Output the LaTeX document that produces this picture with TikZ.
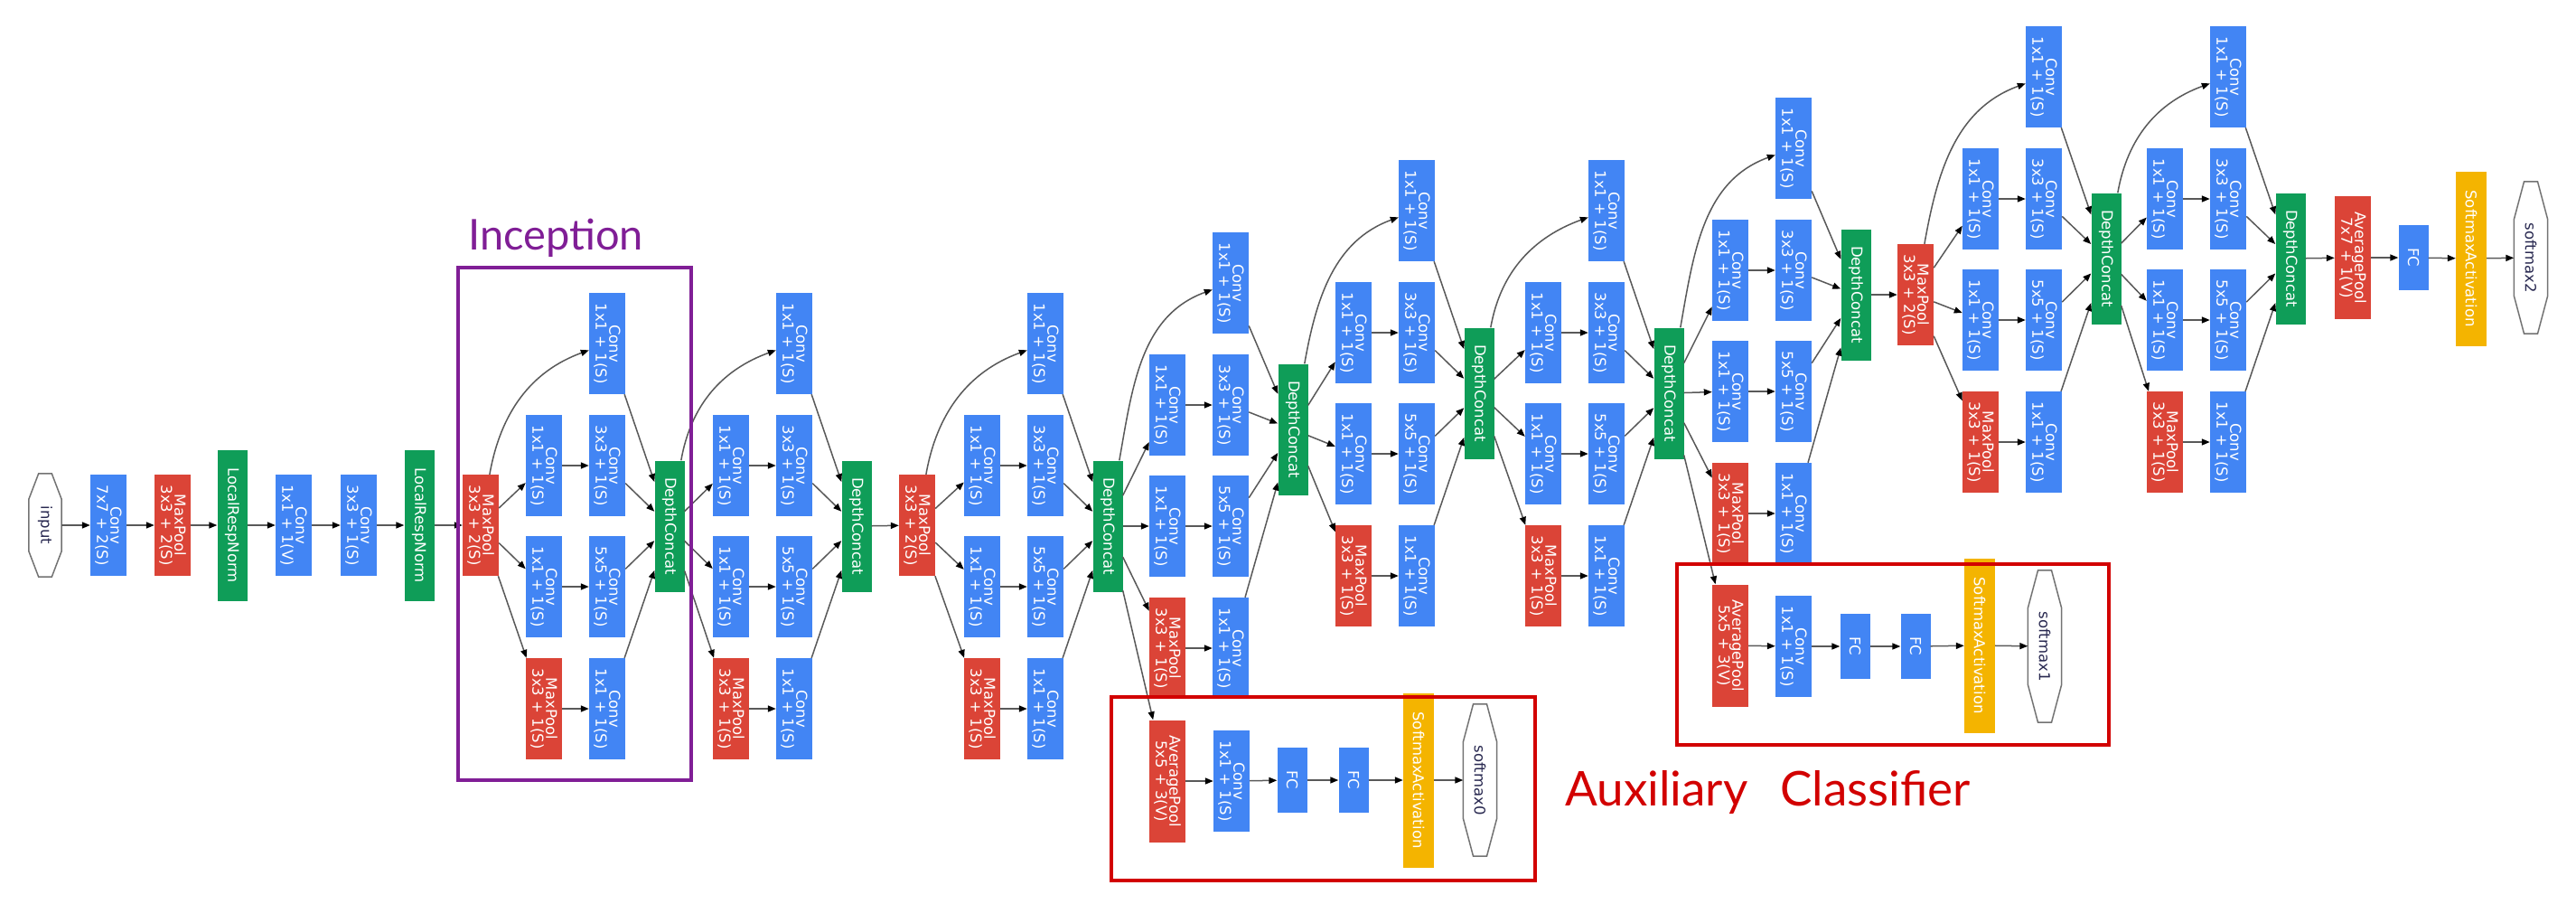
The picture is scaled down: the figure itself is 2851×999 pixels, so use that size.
\documentclass[tikz,border=0pt]{standalone}
\usepackage{fontspec}
\usepackage{graphicx}
\newfontfamily\dv{DejaVu Sans}
\newfontfamily\hand{Lato}
\usetikzlibrary{arrows.meta,calc}
\definecolor{gblue}{RGB}{66,133,244}
\definecolor{gred}{RGB}{219,68,55}
\definecolor{ggreen}{RGB}{15,157,88}
\definecolor{gyellow}{RGB}{244,180,0}
\definecolor{iotext}{RGB}{40,40,80}
\definecolor{annpurple}{RGB}{128,30,150}
\definecolor{annred}{RGB}{210,0,0}
\newcommand\twol[2]{\rotatebox{-90}{\vbox{\baselineskip=15pt\lineskiplimit=-30pt\lineskip=0pt\halign{\hfil##\hfil\cr#1\cr#2\cr}}}}
\newcommand\onel[1]{\rotatebox{-90}{#1}}
\tikzset{
  blk/.style={rectangle, inner sep=0pt, text=white, font=\dv\fontsize{16.5}{15}\selectfont},
  conv/.style={blk, fill=gblue, minimum width=40pt, minimum height=112pt},
  pool/.style={blk, fill=gred, minimum width=40pt, minimum height=112pt},
  apool/.style={pool, minimum height=135pt},
  dc/.style={blk, fill=ggreen, minimum width=33pt, minimum height=145pt},
  lrn/.style={blk, fill=ggreen, minimum width=33pt, minimum height=167pt},
  fc/.style={blk, fill=gblue, minimum width=33pt, minimum height=72pt},
  smx/.style={blk, fill=gyellow, minimum width=34pt, minimum height=193pt},
  io/.style={rectangle, inner sep=0pt, text=iotext, font=\dv\fontsize{16.5}{15}\selectfont, minimum width=37pt, minimum height=168pt},
  e/.style={draw=black!65, line width=1.5pt, -{Triangle[length=9pt,width=7pt,color=black]}},
  octline/.style={draw=black!55, line width=1.5pt},
  frame/.style={line width=3.5pt},
  note/.style={inner sep=0pt, anchor=base west}
}
\newcommand\octo[1]{\path[octline] ($(#1.north west)!0.3!(#1.north east)$) -- ($(#1.north west)!0.7!(#1.north east)$) -- ($(#1.east)!0.5!(#1.north east)$) -- ($(#1.east)!0.5!(#1.south east)$) -- ($(#1.south west)!0.7!(#1.south east)$) -- ($(#1.south west)!0.3!(#1.south east)$) -- ($(#1.west)!0.5!(#1.south west)$) -- ($(#1.west)!0.5!(#1.north west)$) -- cycle;}
% #1 prefix, #2 column-1 x, #3 top-row y, #4 concat y, #5 source node
\newcommand\incep[5]{%
  \node[conv] (#1t)  at ({#2+70},{-#3}) {\twol{Conv}{1x1 + 1(S)}};
  \node[conv] (#1ar) at ({#2},{-#3-135}) {\twol{Conv}{1x1 + 1(S)}};
  \node[conv] (#1a)  at ({#2+70},{-#3-135}) {\twol{Conv}{3x3 + 1(S)}};
  \node[conv] (#1br) at ({#2},{-#3-269}) {\twol{Conv}{1x1 + 1(S)}};
  \node[conv] (#1b)  at ({#2+70},{-#3-269}) {\twol{Conv}{5x5 + 1(S)}};
  \node[pool] (#1cp) at ({#2},{-#3-404}) {\twol{MaxPool}{3x3 + 1(S)}};
  \node[conv] (#1c)  at ({#2+70},{-#3-404}) {\twol{Conv}{1x1 + 1(S)}};
  \node[dc]   (#1d)  at ({#2+139},{-#4}) {\onel{DepthConcat}};
  \draw[e] (#5) to[out=80,in=200] (#1t);
  \draw[e] (#5) -- (#1ar);
  \draw[e] (#5) -- (#1br);
  \draw[e] (#5) -- (#1cp);
  \draw[e] (#1ar) -- (#1a);
  \draw[e] (#1br) -- (#1b);
  \draw[e] (#1cp) -- (#1c);
  \draw[e] (#1t) -- (#1d);
  \draw[e] (#1a) -- (#1d);
  \draw[e] (#1b) -- (#1d);
  \draw[e] (#1c) -- (#1d);
}
\begin{document}
\begin{tikzpicture}[x=1pt,y=1pt]
\path[use as bounding box] (0,0) rectangle (2851,-999);
\fill[white] (0,0) rectangle (2851,-999);
% stem
\node[io] (in) at (50,-581) [minimum width=36pt, minimum height=114pt] {\onel{input}};
\octo{in}
\node[conv] (c1) at (120,-581) {\twol{Conv}{7x7 + 2(S)}};
\node[pool] (p1) at (191,-581) {\twol{MaxPool}{3x3 + 2(S)}};
\node[lrn]  (n1) at (257,-581) {\onel{LocalRespNorm}};
\node[conv] (c2) at (325,-581) {\twol{Conv}{1x1 + 1(V)}};
\node[conv] (c3) at (397,-581) {\twol{Conv}{3x3 + 1(S)}};
\node[lrn]  (n2) at (464,-581) {\onel{LocalRespNorm}};
\node[pool] (p2) at (532,-581) {\twol{MaxPool}{3x3 + 2(S)}};
\draw[e] (in) -- (c1);
\draw[e] (c1) -- (p1);
\draw[e] (p1) -- (n1);
\draw[e] (n1) -- (c2);
\draw[e] (c2) -- (c3);
\draw[e] (c3) -- (n2);
\draw[e] (n2) -- (p2);
% inception 3a, 3b
\incep{A}{602}{380}{582}{p2}
\incep{B}{809}{380}{582}{Ad}
\node[pool] (p3) at (1015,-581) {\twol{MaxPool}{3x3 + 2(S)}};
\draw[e] (Bd) -- (p3);
% inception 4a-4e
\incep{C}{1087}{380}{582}{p3}
\incep{D}{1292}{313}{475}{Cd}
\incep{E}{1498}{233}{435}{Dd}
\incep{F}{1708}{233}{435}{Ed}
\incep{G}{1915}{164}{326}{Fd}
% auxiliary classifier 0
\node[apool] (x0p) at (1292,-864) {\twol{AveragePool}{5x5 + 3(V)}};
\node[conv]  (x0c) at (1363,-864) {\twol{Conv}{1x1 + 1(S)}};
\node[fc]    (x0f) at (1430,-863) {\onel{FC}};
\node[fc]    (x0g) at (1498,-863) {\onel{FC}};
\node[smx]   (x0s) at (1570,-863) {\onel{SoftmaxActivation}};
\node[io]    (x0o) at (1638,-863) {\onel{softmax0}};
\octo{x0o}
\draw[e] (Cd) -- (x0p);
\draw[e] (x0p) -- (x0c);
\draw[e] (x0c) -- (x0f);
\draw[e] (x0f) -- (x0g);
\draw[e] (x0g) -- (x0s);
\draw[e] (x0s) -- (x0o);
% auxiliary classifier 1
\node[apool] (x1p) at (1915,-714) {\twol{AveragePool}{5x5 + 3(V)}};
\node[conv]  (x1c) at (1985,-715) {\twol{Conv}{1x1 + 1(S)}};
\node[fc]    (x1f) at (2053,-715) {\onel{FC}};
\node[fc]    (x1g) at (2120,-715) {\onel{FC}};
\node[smx]   (x1s) at (2191,-714) {\onel{SoftmaxActivation}};
\node[io]    (x1o) at (2263,-715) {\onel{softmax1}};
\octo{x1o}
\draw[e] (Fd) -- (x1p);
\draw[e] (x1p) -- (x1c);
\draw[e] (x1c) -- (x1f);
\draw[e] (x1f) -- (x1g);
\draw[e] (x1g) -- (x1s);
\draw[e] (x1s) -- (x1o);
% inception 5a, 5b
\node[pool] (p4) at (2120,-326) {\twol{MaxPool}{3x3 + 2(S)}};
\draw[e] (Gd) -- (p4);
\incep{H}{2192}{85}{286}{p4}
\incep{I}{2396}{85}{286}{Hd}
% head
\node[pool, minimum height=136pt] (ap) at (2604,-285) {\twol{AveragePool}{7x7 + 1(V)}};
\node[fc]  (fc) at (2671,-285) {\onel{FC}};
\node[smx] (sm) at (2735,-286) {\onel{SoftmaxActivation}};
\node[io]  (out) at (2801,-285) {\onel{softmax2}};
\octo{out}
\draw[e] (Id) -- (ap);
\draw[e] (ap) -- (fc);
\draw[e] (fc) -- (sm);
\draw[e] (sm) -- (out);
% annotations
\draw[frame, annpurple] (507,-296) rectangle (765,-863);
\draw[frame, annred] (1230,-771) rectangle (1699,-974);
\draw[frame, annred] (1856,-624) rectangle (2334,-824);
\node[note, text=annpurple, font=\hand\fontsize{47}{52}\selectfont] (inclabel) at (518,-276) {Inception};
\node[note, text=annred, font=\hand\fontsize{53}{58}\selectfont] (auxlabel) at (1732,-891) {Auxiliary\hspace{36pt}Classifier};
\end{tikzpicture}
\end{document}
